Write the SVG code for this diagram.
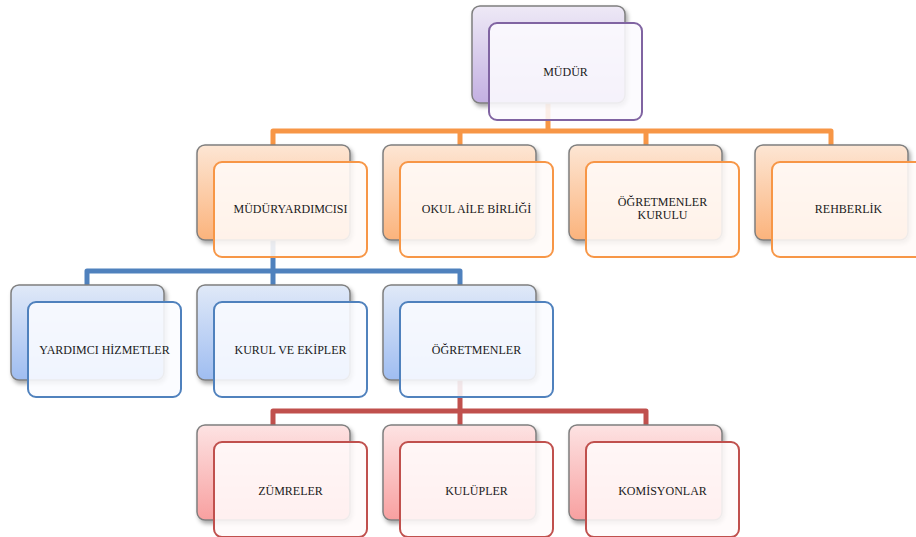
<svg xmlns="http://www.w3.org/2000/svg" width="916" height="537" viewBox="0 0 916 537">
<defs>
<linearGradient id="gP" x1="0" y1="0" x2="0" y2="1"><stop offset="0" stop-color="#eee9f6"/><stop offset="1" stop-color="#c3b0e2"/></linearGradient>
<linearGradient id="gO" x1="0" y1="0" x2="0" y2="1"><stop offset="0" stop-color="#fde6d4"/><stop offset="1" stop-color="#fbb37c"/></linearGradient>
<linearGradient id="gB" x1="0" y1="0" x2="0" y2="1"><stop offset="0" stop-color="#e0e9f8"/><stop offset="1" stop-color="#9fbdf1"/></linearGradient>
<linearGradient id="gR" x1="0" y1="0" x2="0" y2="1"><stop offset="0" stop-color="#fde3e3"/><stop offset="1" stop-color="#f8a0a0"/></linearGradient>
<filter id="sh" x="-10%" y="-10%" width="130%" height="130%"><feDropShadow dx="2" dy="3" stdDeviation="2" flood-color="#000" flood-opacity="0.35"/></filter>
</defs>
<style>
.back{stroke:#7f7f7f;stroke-width:1.5;filter:url(#sh)}
.front{stroke-width:2;fill-opacity:0.88}
.fP{stroke:#8064a2;fill:#fcfbfe}
.fO{stroke:#f79646;fill:#fffbf8}
.fB{stroke:#4f81bd;fill:#fbfcff}
.fR{stroke:#c0504d;fill:#fffafa}
.conn{fill:none;stroke-width:5;stroke-linejoin:round}
text{font-family:"Liberation Serif","Times New Roman",serif;font-size:12px;fill:#1a1a1a;text-anchor:middle}
</style>
<g id="connectors">
<path class="conn" stroke="#f79646" d="M548 100V131M273 145V131H831V145M460 131V145M646 131V145"/>
<path class="conn" stroke="#4f81bd" d="M273 238V271M87 285V271H460V285M273 271V285"/>
<path class="conn" stroke="#c0504d" d="M460 378V411M273 425V411H646V425M460 411V425"/>
</g>
<g id="n-mudur">
<rect class="back" x="472" y="6" width="153" height="97" rx="8" fill="url(#gP)"/>
<rect class="front fP" x="489" y="23" width="153" height="97" rx="8"/>
<text x="565.5" y="76">MÜDÜR</text>
</g>
<g id="n-mudur-yardimcisi">
<rect class="back" x="197" y="145" width="153" height="95" rx="8" fill="url(#gO)"/>
<rect class="front fO" x="214" y="162" width="153" height="95" rx="8"/>
<text x="290.5" y="213">MÜDÜRYARDIMCISI</text>
</g>
<g id="n-okul-aile">
<rect class="back" x="383" y="145" width="153" height="95" rx="8" fill="url(#gO)"/>
<rect class="front fO" x="400" y="162" width="153" height="95" rx="8"/>
<text x="476.5" y="213">OKUL AİLE BİRLİĞİ</text>
</g>
<g id="n-ogretmenler-kurulu">
<rect class="back" x="569" y="145" width="153" height="95" rx="8" fill="url(#gO)"/>
<rect class="front fO" x="586" y="162" width="153" height="95" rx="8"/>
<text x="662.5" y="206">ÖĞRETMENLER</text>
<text x="662.5" y="219">KURULU</text>
</g>
<g id="n-rehberlik">
<rect class="back" x="755" y="145" width="153" height="95" rx="8" fill="url(#gO)"/>
<rect class="front fO" x="772" y="162" width="153" height="95" rx="8"/>
<text x="848.5" y="213">REHBERLİK</text>
</g>
<g id="n-yardimci-hizmetler">
<rect class="back" x="11" y="285" width="153" height="95" rx="8" fill="url(#gB)"/>
<rect class="front fB" x="28" y="302" width="153" height="95" rx="8"/>
<text x="104.5" y="354">YARDIMCI HİZMETLER</text>
</g>
<g id="n-kurul-ekipler">
<rect class="back" x="197" y="285" width="153" height="95" rx="8" fill="url(#gB)"/>
<rect class="front fB" x="214" y="302" width="153" height="95" rx="8"/>
<text x="290.5" y="354">KURUL VE EKİPLER</text>
</g>
<g id="n-ogretmenler">
<rect class="back" x="383" y="285" width="153" height="95" rx="8" fill="url(#gB)"/>
<rect class="front fB" x="400" y="302" width="153" height="95" rx="8"/>
<text x="476.5" y="354">ÖĞRETMENLER</text>
</g>
<g id="n-zumreler">
<rect class="back" x="197" y="425" width="153" height="95" rx="8" fill="url(#gR)"/>
<rect class="front fR" x="214" y="442" width="153" height="95" rx="8"/>
<text x="290.5" y="495">ZÜMRELER</text>
</g>
<g id="n-kulupler">
<rect class="back" x="383" y="425" width="153" height="95" rx="8" fill="url(#gR)"/>
<rect class="front fR" x="400" y="442" width="153" height="95" rx="8"/>
<text x="476.5" y="495">KULÜPLER</text>
</g>
<g id="n-komisyonlar">
<rect class="back" x="569" y="425" width="153" height="95" rx="8" fill="url(#gR)"/>
<rect class="front fR" x="586" y="442" width="153" height="95" rx="8"/>
<text x="662.5" y="495">KOMİSYONLAR</text>
</g>
</svg>
